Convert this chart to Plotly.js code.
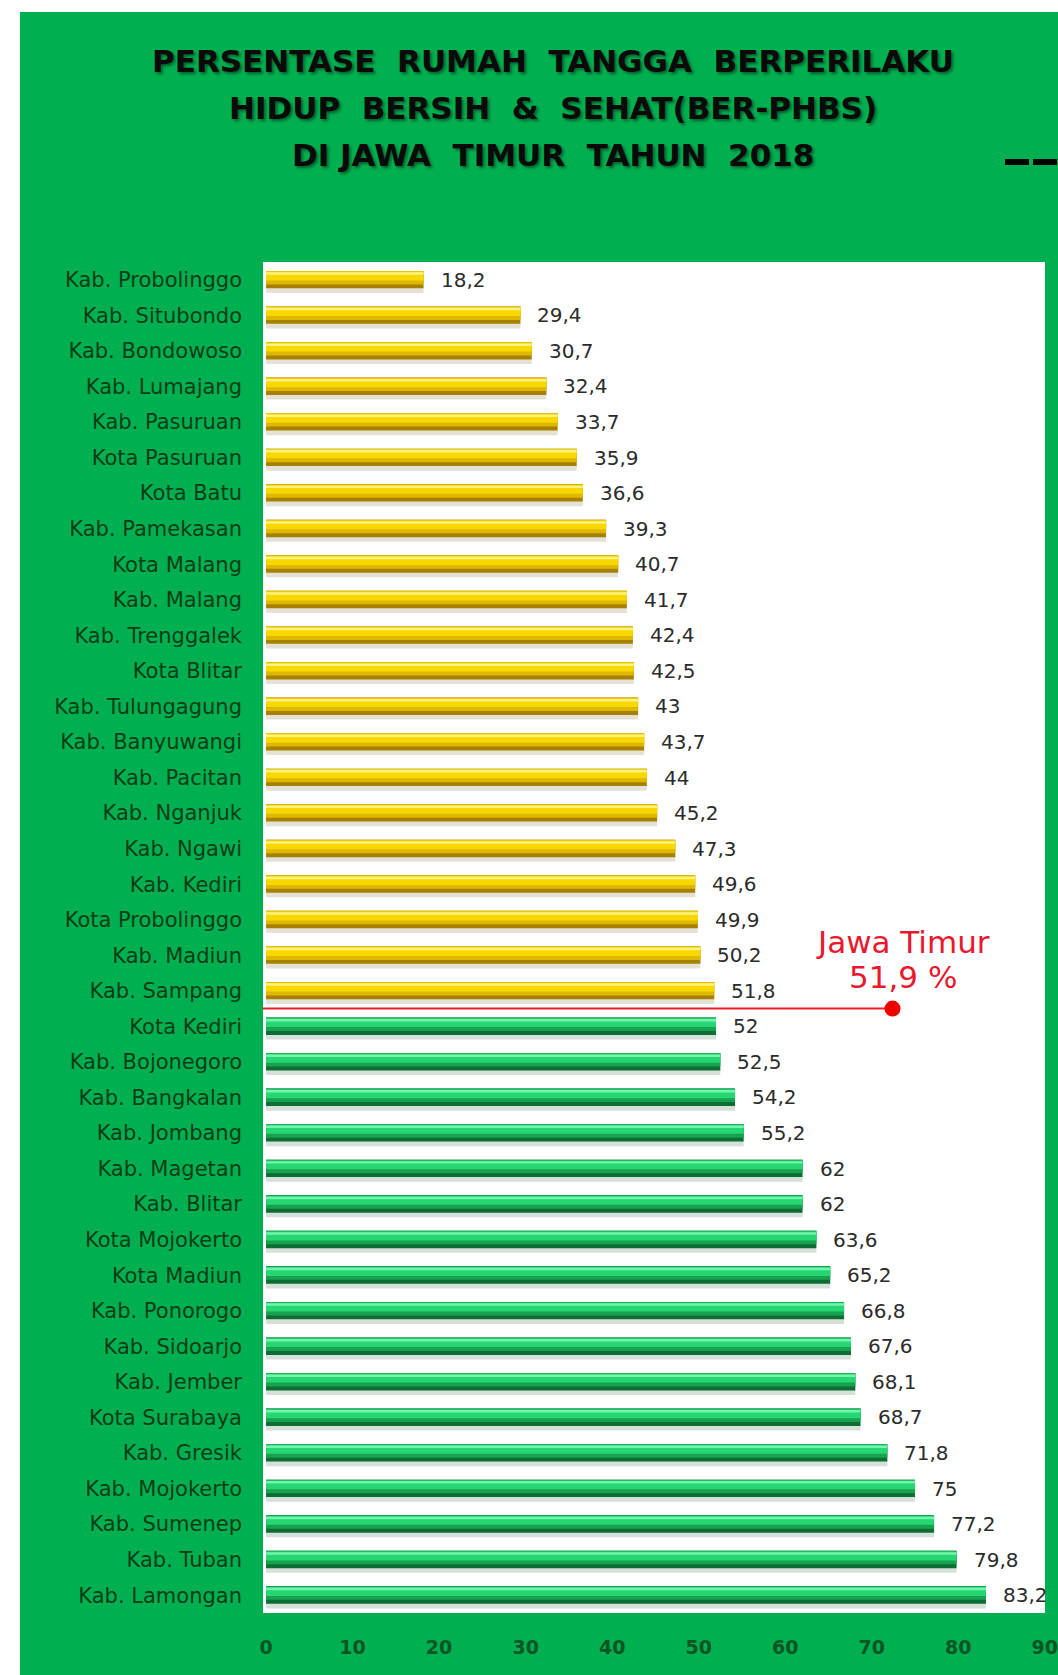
<!DOCTYPE html>
<html>
<head>
<meta charset="utf-8">
<script src="https://cdn.plot.ly/plotly-3.0.1.min.js"></script>
<style>
  html, body { margin: 0; padding: 0; background: #ffffff; }
  #chart { width: 1058px; height: 1675px; }
</style>
</head>
<body>
<div id="chart"></div>
<script>
// ---------------- DATA ----------------
const categories = [
  "Kab. Probolinggo", "Kab. Situbondo", "Kab. Bondowoso", "Kab. Lumajang", "Kab. Pasuruan",
  "Kota Pasuruan", "Kota Batu", "Kab. Pamekasan", "Kota Malang", "Kab. Malang",
  "Kab. Trenggalek", "Kota Blitar", "Kab. Tulungagung", "Kab. Banyuwangi", "Kab. Pacitan",
  "Kab. Nganjuk", "Kab. Ngawi", "Kab. Kediri", "Kota Probolinggo", "Kab. Madiun",
  "Kab. Sampang", "Kota Kediri", "Kab. Bojonegoro", "Kab. Bangkalan", "Kab. Jombang",
  "Kab. Magetan", "Kab. Blitar", "Kota Mojokerto", "Kota Madiun", "Kab. Ponorogo",
  "Kab. Sidoarjo", "Kab. Jember", "Kota Surabaya", "Kab. Gresik", "Kab. Mojokerto",
  "Kab. Sumenep", "Kab. Tuban", "Kab. Lamongan"
];
const values = [
  18.2, 29.4, 30.7, 32.4, 33.7,
  35.9, 36.6, 39.3, 40.7, 41.7,
  42.4, 42.5, 43, 43.7, 44,
  45.2, 47.3, 49.6, 49.9, 50.2,
  51.8, 52, 52.5, 54.2, 55.2,
  62, 62, 63.6, 65.2, 66.8,
  67.6, 68.1, 68.7, 71.8, 75,
  77.2, 79.8, 83.2
];
const provinceName = "Jawa Timur";
const provinceValue = 51.9;
const xTickVals = [0, 10, 20, 30, 40, 50, 60, 70, 80, 90];
const titleLines = [
  "PERSENTASE\u00a0\u00a0RUMAH\u00a0\u00a0TANGGA\u00a0\u00a0BERPERILAKU",
  "HIDUP\u00a0\u00a0BERSIH\u00a0\u00a0&\u00a0\u00a0SEHAT(BER-PHBS)",
  "DI JAWA\u00a0\u00a0TIMUR\u00a0\u00a0TAHUN\u00a0\u00a02018"
];

// ---------------- LAYOUT GEOMETRY (pixels) ----------------
const W = 1058, H = 1675;
const plotL = 263, plotR = 1045, plotT = 262, plotB = 1613;
const px2x = p => (p - plotL) / (plotR - plotL);
const px2y = p => (plotB - p) / (plotB - plotT);

const fmt = v => String(v).replace('.', ',');

// palettes: [shadow, dark, mid, bright, highlight]
const yellowPal = ['rgba(90,70,0,0.16)', '#a88000', '#deb800', '#f8d800', '#fff27e'];
const greenPal  = ['rgba(0,60,20,0.16)', '#0d6e34', '#17a24f', '#27d672', '#70f5aa'];
const palFor = v => (v < provinceValue ? yellowPal : greenPal);

const layers = [
  {idx: 0, offset: 0.20,  width: 0.17},
  {idx: 1, offset: -0.25, width: 0.49},
  {idx: 2, offset: -0.25, width: 0.38},
  {idx: 3, offset: -0.23, width: 0.25},
  {idx: 4, offset: -0.21, width: 0.07}
];

const traces = layers.map(L => ({
  type: 'bar',
  orientation: 'h',
  x: values,
  y: categories,
  offset: L.offset,
  width: L.width,
  marker: {color: values.map(v => palFor(v)[L.idx]), line: {width: 0}},
  hoverinfo: 'skip',
  showlegend: false
}));

// value labels
const annotations = values.map((v, i) => ({
  x: v, y: categories[i], xref: 'x', yref: 'y',
  text: fmt(v), showarrow: false, xanchor: 'left', yanchor: 'middle',
  xshift: 15,
  font: {family: 'DejaVu Sans', size: 20, color: '#2b2b2b'}
}));

// title lines
const titleY = [61, 108, 155];
titleLines.forEach((t, i) => {
  annotations.push({
    x: px2x(553), y: px2y(titleY[i]), xref: 'paper', yref: 'paper',
    text: t, showarrow: false, xanchor: 'center', yanchor: 'middle',
    font: {family: 'DejaVu Sans', size: 31, color: '#0a0a0a', weight: 'bold',
           shadow: '2px 2px 3px rgba(0,0,0,0.45)'}
  });
});

// provincial average annotation
const avgPos = values.filter(v => v < provinceValue).length - 0.5;
const dotX = 72.4;
annotations.push({
  x: px2x(903), y: px2y(942), xref: 'paper', yref: 'paper',
  text: provinceName, showarrow: false, xanchor: 'center', yanchor: 'middle',
  font: {family: 'DejaVu Sans', size: 31, color: '#e8192c'}
});
annotations.push({
  x: px2x(903), y: px2y(977), xref: 'paper', yref: 'paper',
  text: fmt(provinceValue) + ' %', showarrow: false, xanchor: 'center', yanchor: 'middle',
  font: {family: 'DejaVu Sans', size: 31, color: '#e8192c'}
});

const shapes = [
  // white page margins (top and left)
  {type: 'rect', xref: 'paper', yref: 'paper', x0: px2x(0), x1: px2x(W), y0: px2y(0), y1: px2y(12),
   fillcolor: '#ffffff', line: {width: 0}, layer: 'below'},
  {type: 'rect', xref: 'paper', yref: 'paper', x0: px2x(0), x1: px2x(20), y0: px2y(0), y1: px2y(H),
   fillcolor: '#ffffff', line: {width: 0}, layer: 'below'},
  // dashed legend fragment at right
  {type: 'line', xref: 'paper', yref: 'paper', x0: px2x(1005), x1: px2x(1060), y0: px2y(162), y1: px2y(162),
   line: {color: '#000000', width: 6, dash: '24px,4px'}},
  // provincial average line
  {type: 'line', xref: 'x', yref: 'y', x0: -0.35, x1: dotX, y0: avgPos, y1: avgPos,
   line: {color: '#ee1c25', width: 2}},
  {type: 'circle', xref: 'x', yref: 'y', xsizemode: 'pixel', ysizemode: 'pixel',
   xanchor: dotX, yanchor: avgPos, x0: -8, x1: 8, y0: -8, y1: 8,
   fillcolor: '#ee0000', line: {color: '#ee0000', width: 0}}
];

const layout = {
  width: W, height: H,
  margin: {l: plotL, r: W - plotR, t: plotT, b: H - plotB, pad: 0},
  paper_bgcolor: '#00b050',
  plot_bgcolor: '#ffffff',
  barmode: 'overlay',
  showlegend: false,
  xaxis: {
    range: [-0.35, 90.02],
    tickvals: xTickVals,
    ticktext: xTickVals.map(String),
    showgrid: false, zeroline: false, showline: false, ticks: '',
    ticklabelstandoff: 21,
    ticklabeloverflow: 'allow',
    tickfont: {family: 'DejaVu Sans', size: 19, color: '#0b5524', weight: 'bold'},
    fixedrange: true
  },
  yaxis: {
    type: 'category',
    categoryorder: 'array',
    categoryarray: categories,
    range: [categories.length - 0.5, -0.5],
    showgrid: false, zeroline: false, showline: false, ticks: '',
    ticklabelstandoff: 20,
    tickfont: {family: 'DejaVu Sans', size: 21, color: '#083d17'},
    fixedrange: true
  },
  annotations: annotations,
  shapes: shapes
};

Plotly.newPlot('chart', traces, layout, {displayModeBar: false, staticPlot: true});
</script>
</body>
</html>
